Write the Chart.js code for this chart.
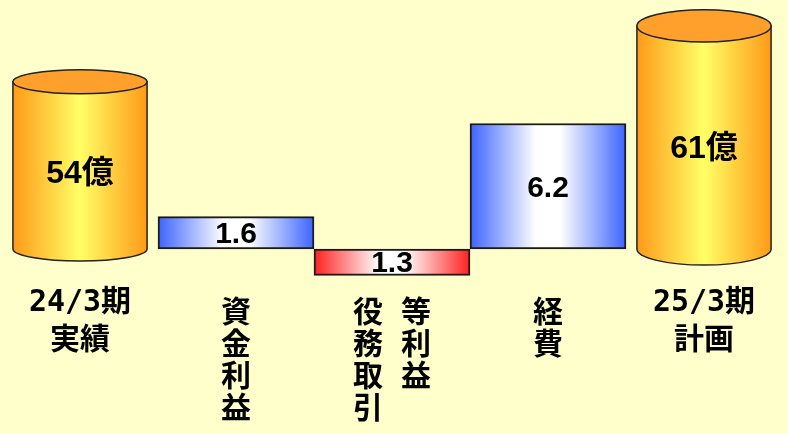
<!DOCTYPE html>
<html lang="ja">
<head>
<meta charset="utf-8">
<script src="https://cdn.jsdelivr.net/npm/chart.js@4"></script>
<style>
  html, body { margin: 0; padding: 0; background: #ffffcc; overflow: hidden; }
  #wrap { position: relative; width: 788px; height: 433px; }
</style>
</head>
<body>
<div id="wrap"><canvas id="bridge"></canvas></div>
<script>
// axis captions, one entry per printed line; the blank rows open up the
// gap under the period line, the middle ones are set one character per line
const categories = [
  ["24/3期", "", "", "", "実績"],
  ["資", "金", "利", "益"],
  ["役 等", "務 利", "取 益", "引 　"],
  ["経", "費"],
  ["25/3期", "", "", "", "計画"],
];
// period totals (億円), drawn as cylinders
const totals = [54, null, null, null, 61];
// movements between the two periods
const changes = [null, 1.6, -1.3, 6.2, null];

// the totals axis is cut off here so both cylinders stand on the zero line
const TOTALS_FLOOR = 33;

const CAPTION_FONT = "'DejaVu Sans Mono', 'Noto Sans CJK JP', sans-serif";
const VALUE_FONT = "'Liberation Sans', 'Noto Sans CJK JP', sans-serif";

function isPeriod(index) {
  return totals[index] != null;
}

function barGradient(context, edge) {
  const chart = context.chart;
  const x = chart.scales.x;
  if (context.type !== "data" || !chart.chartArea || !x) return edge;
  const cx = x.getPixelForValue(context.dataIndex);
  const half = x.width / categories.length / 2;
  const g = chart.ctx.createLinearGradient(cx - half, 0, cx + half, 0);
  g.addColorStop(0, edge);
  g.addColorStop(0.42, "#ffffff");
  g.addColorStop(0.58, "#ffffff");
  g.addColorStop(1, edge);
  return g;
}

function cylinderDepth(el) {
  return (el.base - el.y) * 0.072;
}

function drawCylinder(ctx, el) {
  const { x, y, base, width } = el;
  const rx = width / 2;
  const ry = cylinderDepth(el);
  const left = x - rx;
  const right = x + rx;

  const side = ctx.createLinearGradient(left, 0, right, 0);
  side.addColorStop(0, "#ff9a18");
  side.addColorStop(0.5, "#ffff66");
  side.addColorStop(1, "#ff9a18");

  ctx.save();
  ctx.strokeStyle = "#222";
  ctx.lineWidth = 1.5;

  ctx.beginPath();
  ctx.moveTo(left, y);
  ctx.lineTo(left, base);
  ctx.ellipse(x, base, rx, ry, 0, Math.PI, 0, true);
  ctx.lineTo(right, y);
  ctx.closePath();
  ctx.fillStyle = side;
  ctx.fill();
  ctx.stroke();

  ctx.beginPath();
  ctx.ellipse(x, y, rx, ry, 0, 0, Math.PI * 2);
  ctx.fillStyle = "#ffa02d";
  ctx.fill();
  ctx.stroke();
  ctx.restore();
}

const cylinders = {
  id: "cylinders",
  beforeDatasetDraw(chart, args) {
    if (args.index !== 0) return;
    args.meta.data.forEach((el, i) => {
      if (totals[i] != null) drawCylinder(chart.ctx, el);
    });
    return false;
  },
  afterDatasetsDraw(chart) {
    const ctx = chart.ctx;
    ctx.save();
    ctx.fillStyle = "#000";
    ctx.textAlign = "center";
    ctx.textBaseline = "middle";

    ctx.font = "bold 32px " + VALUE_FONT;
    chart.getDatasetMeta(0).data.forEach((el, i) => {
      if (totals[i] == null) return;
      const mid = (el.y + el.base) / 2 + cylinderDepth(el) * 0.7;
      ctx.fillText(totals[i] + "億", el.x, mid);
    });

    ctx.font = "bold 30px " + VALUE_FONT;
    chart.getDatasetMeta(1).data.forEach((el, i) => {
      if (changes[i] == null) return;
      ctx.fillText(Math.abs(changes[i]).toFixed(1), el.x, (el.y + el.base) / 2 + 2);
    });
    ctx.restore();
  },
};

new Chart(document.getElementById("bridge"), {
  type: "bar",
  data: {
    labels: categories,
    datasets: [
      {
        label: "期末",
        data: totals,
        yAxisID: "y2",
        base: TOTALS_FLOOR,
        grouped: false,
        barPercentage: 0.86,
        categoryPercentage: 1,
        backgroundColor: "transparent",
        borderWidth: 0,
      },
      {
        label: "増減",
        data: changes,
        yAxisID: "y",
        grouped: false,
        barPercentage: 1,
        categoryPercentage: 1,
        backgroundColor: (c) =>
          barGradient(c, changes[c.dataIndex] < 0 ? "#ff2020" : "#3c64ff"),
        borderColor: "#1a1a1a",
        borderWidth: 2,
        borderSkipped: false,
        clip: false,
      },
    ],
  },
  options: {
    responsive: true,
    maintainAspectRatio: false,
    animation: false,
    layout: { padding: { top: 2, left: 2, right: 6, bottom: 3.5 } },
    plugins: {
      legend: { display: false },
      tooltip: { enabled: false },
    },
    scales: {
      x: {
        grid: { display: false, drawTicks: true, tickLength: 46.5 },
        border: { display: false },
        ticks: {
          color: "#000",
          autoSkip: false,
          maxRotation: 0,
          padding: 3,
          font: (c) => ({
            family: CAPTION_FONT,
            size: 30,
            weight: "bold",
            lineHeight: isPeriod(c.index) ? "9.5px" : "32px",
          }),
        },
      },
      y: { display: false, min: 0, max: 12.2 },
      y2: { display: false, position: "right", min: TOTALS_FLOOR, max: 64 },
    },
  },
  plugins: [cylinders],
});
</script>
</body>
</html>
